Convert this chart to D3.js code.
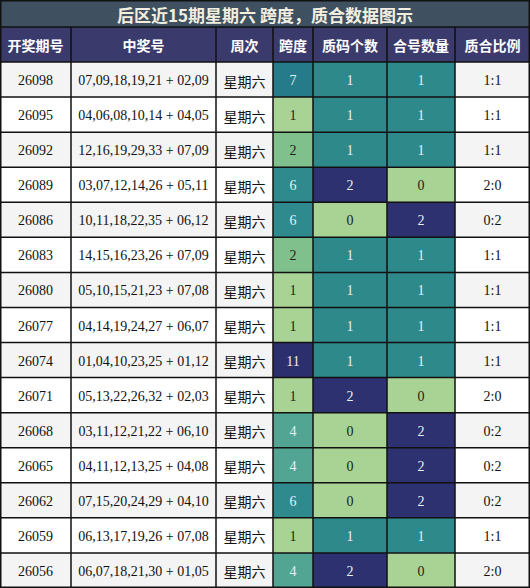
<!DOCTYPE html><html><head><meta charset="utf-8"><script src="https://cdn.jsdelivr.net/npm/d3@7"></script>
<style>body{margin:0;background:#fff}</style></head><body><svg id="c" width="530" height="588"></svg>
<script>
const title="后区近15期星期六 跨度，质合数据图示";
const headers=["开奖期号","中奖号","周次","跨度","质码个数","合号数量","质合比例"];
const issues=["26098","26095","26092","26089","26086","26083","26080","26077","26074","26071","26068","26065","26062","26059","26056"];
const numbers=["07,09,18,19,21 + 02,09","04,06,08,10,14 + 04,05","12,16,19,29,33 + 07,09","03,07,12,14,26 + 05,11","10,11,18,22,35 + 06,12","14,15,16,23,26 + 07,09","05,10,15,21,23 + 07,08","04,14,19,24,27 + 06,07","01,04,10,23,25 + 01,12","05,13,22,26,32 + 02,03","03,11,12,21,22 + 06,10","04,11,12,13,25 + 04,08","07,15,20,24,29 + 04,10","06,13,17,19,26 + 07,08","06,07,18,21,30 + 01,05"];
const weekday="星期六";
const spans=[7,1,2,6,6,2,1,1,11,1,4,4,6,1,4];
const primes=[1,1,1,2,0,1,1,1,1,2,0,0,0,1,2];
const composites=[1,1,1,0,2,1,1,1,1,0,2,2,2,1,0];
const ratios=["1:1","1:1","1:1","2:0","0:2","1:1","1:1","1:1","1:1","2:0","0:2","0:2","0:2","1:1","2:0"];

const svg=d3.select("#c");
const cols=[0,71,216,273,313,387,455,530];
const x=i=>cols[i], w=i=>cols[i+1]-cols[i];
const titleH=27, headH=35;
const y=d3.scaleBand().domain(d3.range(15)).range([titleH+headH,588]);
const spanColor=d3.scaleLinear().domain([1,2,4,6,7,11]).range(["#a8d394","#80c08c","#52a593","#2f8a8e","#267b8a","#2c2f6e"]);
const cntColor=d3.scaleOrdinal().domain([0,1,2]).range(["#a8d394","#2e898b","#2d3170"]);
const serif="'Liberation Serif','DejaVu Serif',serif", cjk="'Noto Sans CJK SC',sans-serif";

svg.append("rect").attr("width",530).attr("height",titleH).attr("fill","#3f5161");
svg.append("text").attr("x",265).attr("y",titleH/2+1).attr("text-anchor","middle").attr("dominant-baseline","central")
 .attr("fill","#f3efe0").attr("font-family",cjk).attr("font-weight","bold").attr("font-size",17).text(title);
headers.forEach((h,i)=>{
 svg.append("rect").attr("x",x(i)).attr("y",titleH).attr("width",w(i)).attr("height",headH).attr("fill","#3b3a6d");
 svg.append("text").attr("x",x(i)+w(i)/2).attr("y",titleH+headH/2).attr("text-anchor","middle").attr("dominant-baseline","central")
  .attr("fill","#fff").attr("font-family",cjk).attr("font-weight","bold").attr("font-size",14).text(h);
});
issues.forEach((d,r)=>{
 const base=r%2?"#ffffff":"#f4f4f4";
 const cells=[[d,base,"#111",serif],[numbers[r],base,"#111",serif],[weekday,base,"#111",cjk],
  [spans[r],spanColor(spans[r]),spans[r]<=2?"#222":"#e8f0ee",serif],
  [primes[r],cntColor(primes[r]),primes[r]===0?"#222":"#e8f0ee",serif],
  [composites[r],cntColor(composites[r]),composites[r]===0?"#222":"#e8f0ee",serif],
  [ratios[r],base,"#111",serif]];
 cells.forEach((c,i)=>{
  svg.append("rect").attr("x",x(i)).attr("y",y(r)).attr("width",w(i)).attr("height",y.bandwidth()).attr("fill",c[1]);
  svg.append("text").attr("x",x(i)+w(i)/2).attr("y",y(r)+y.bandwidth()/2+1).attr("text-anchor","middle").attr("dominant-baseline","central")
   .attr("fill",c[2]).attr("font-family",c[3]).attr("font-size",14).text(c[0]);
 });
});
const g=svg.append("g").attr("stroke","#111").attr("stroke-width",1.5);
cols.forEach(c=>g.append("line").attr("x1",c).attr("x2",c).attr("y1",titleH).attr("y2",588));
[titleH,titleH+headH,...d3.range(1,16).map(r=>titleH+headH+r*y.bandwidth())].forEach(v=>g.append("line").attr("x1",0).attr("x2",530).attr("y1",v).attr("y2",v));
g.append("rect").attr("x",0.75).attr("y",0.75).attr("width",528.5).attr("height",586.5).attr("fill","none");
</script></body></html>
